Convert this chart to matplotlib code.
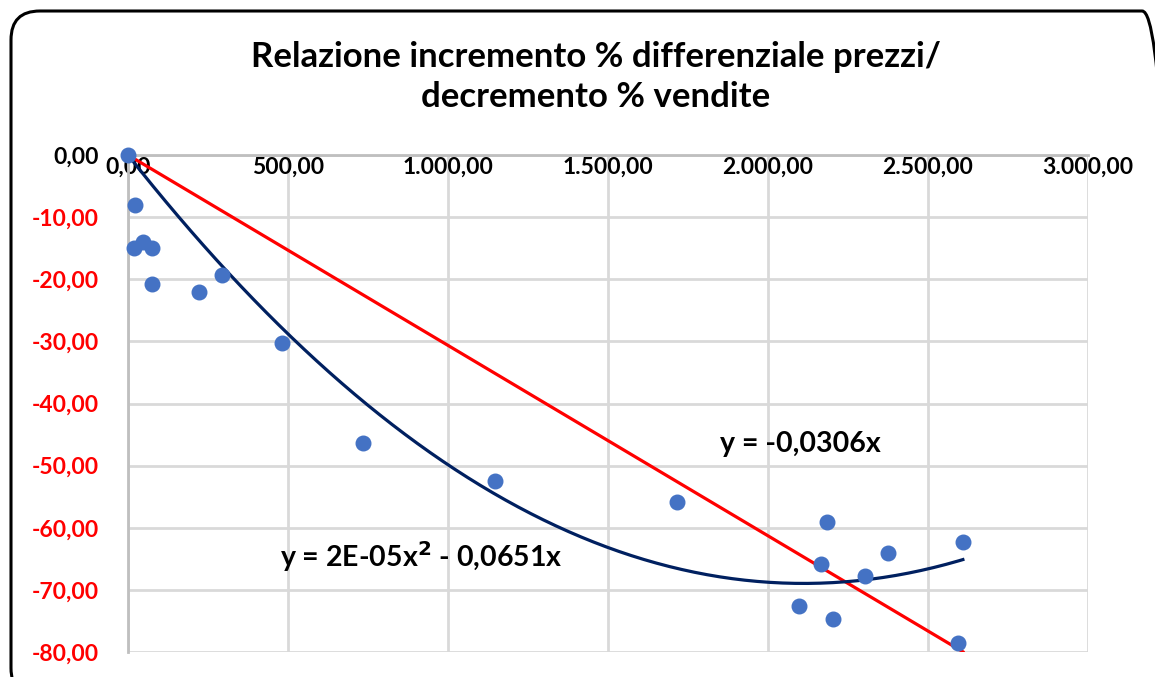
import numpy as np
import matplotlib.pyplot as plt
from matplotlib.patches import FancyBboxPatch
from matplotlib.ticker import FuncFormatter

# incremento % differenziale prezzi (x) / decremento % vendite (y)
x_vals = [0, 22, 19, 47, 76, 76, 222, 294, 481, 734, 1147, 1716,
          2184, 2166, 2375, 2303, 2097, 2204, 2609, 2594]
y_vals = [0.0, -8.0, -15.0, -14.0, -15.0, -20.8, -22.1, -19.3, -30.3, -46.4,
          -52.5, -55.9, -59.1, -65.9, -64.1, -67.8, -72.6, -74.7, -62.3, -78.6]

x_ticks = [0, 500, 1000, 1500, 2000, 2500, 3000]
y_ticks = [0, -10, -20, -30, -40, -50, -60, -70, -80]

FONT = ["Lato", "DejaVu Sans"]


def it_fmt(v, pos=None):
    s = f"{v:,.2f}"
    return s.replace(",", "X").replace(".", ",").replace("X", ".")


x = np.array(x_vals, dtype=float)
y = np.array(y_vals, dtype=float)

# trendlines through the origin, as in Excel
m_lin = np.sum(x * y) / np.sum(x * x)
A = np.column_stack([x ** 2, x])
a_q, b_q = np.linalg.lstsq(A, y, rcond=None)[0]

fig = plt.figure(figsize=(11.55, 6.77), dpi=100)
ax = fig.add_axes([128 / 1155, 1 - 652 / 677, 960 / 1155, 497 / 677])

# outer rounded frame
frame = FancyBboxPatch((11 / 1155, -20 / 677), 1160 / 1155, 686 / 677,
                       boxstyle="round,pad=0,rounding_size=0.025",
                       transform=fig.transFigure, facecolor="none",
                       edgecolor="black", linewidth=2.2, zorder=0,
                       mutation_aspect=1155 / 677)
fig.patches.append(frame)

ax.set_xlim(0, 3000)
ax.set_ylim(-80, 0)
ax.set_xticks(x_ticks)
ax.set_yticks(y_ticks)
ax.grid(True, color="#D9D9D9", linewidth=2)
ax.set_axisbelow(True)

for s in ["top", "right"]:
    ax.spines[s].set_visible(False)
ax.spines["bottom"].set_position(("data", 0))
ax.spines["bottom"].set_color("#BFBFBF")
ax.spines["bottom"].set_linewidth(2)
ax.spines["left"].set_color("#BFBFBF")
ax.spines["left"].set_linewidth(2)
ax.tick_params(length=0)
ax.tick_params(axis="x", pad=1)
ax.tick_params(axis="y", pad=21)

ax.xaxis.set_major_formatter(FuncFormatter(it_fmt))
ax.yaxis.set_major_formatter(FuncFormatter(it_fmt))
for lab in ax.get_xticklabels():
    lab.set_fontfamily(FONT)
    lab.set_fontweight("bold")
    lab.set_fontsize(16.5)
for lab, v in zip(ax.get_yticklabels(), y_ticks):
    lab.set_fontfamily(FONT)
    lab.set_fontweight("bold")
    lab.set_fontsize(16.5)
    lab.set_color("black" if v == 0 else "#FF0000")

xs = np.linspace(0, x.max(), 200)
ax.plot(xs, m_lin * xs, color="#FF0000", linewidth=2.3, zorder=3)
ax.plot(xs, a_q * xs ** 2 + b_q * xs, color="#002060", linewidth=2.3, zorder=3)
ax.scatter(x, y, s=110, color="#4472C4", zorder=4, clip_on=False)

ax.text(1850, -46.5, "y = -0,0306x", fontsize=20.5, fontweight="bold",
        family=FONT, ha="left", va="center")
ax.text(475, -64.7, "y = 2E-05x$^{\\mathbf{2}}$ - 0,0651x", fontsize=20.5,
        fontweight="bold", family=FONT, ha="left", va="center")

fig.text(596 / 1155, 1 - 77 / 677,
         "Relazione incremento % differenziale prezzi/\ndecremento % vendite",
         ha="center", va="center", fontsize=25, fontweight="bold",
         family=FONT, linespacing=1.3)

fig.savefig("out.png", dpi=100)
